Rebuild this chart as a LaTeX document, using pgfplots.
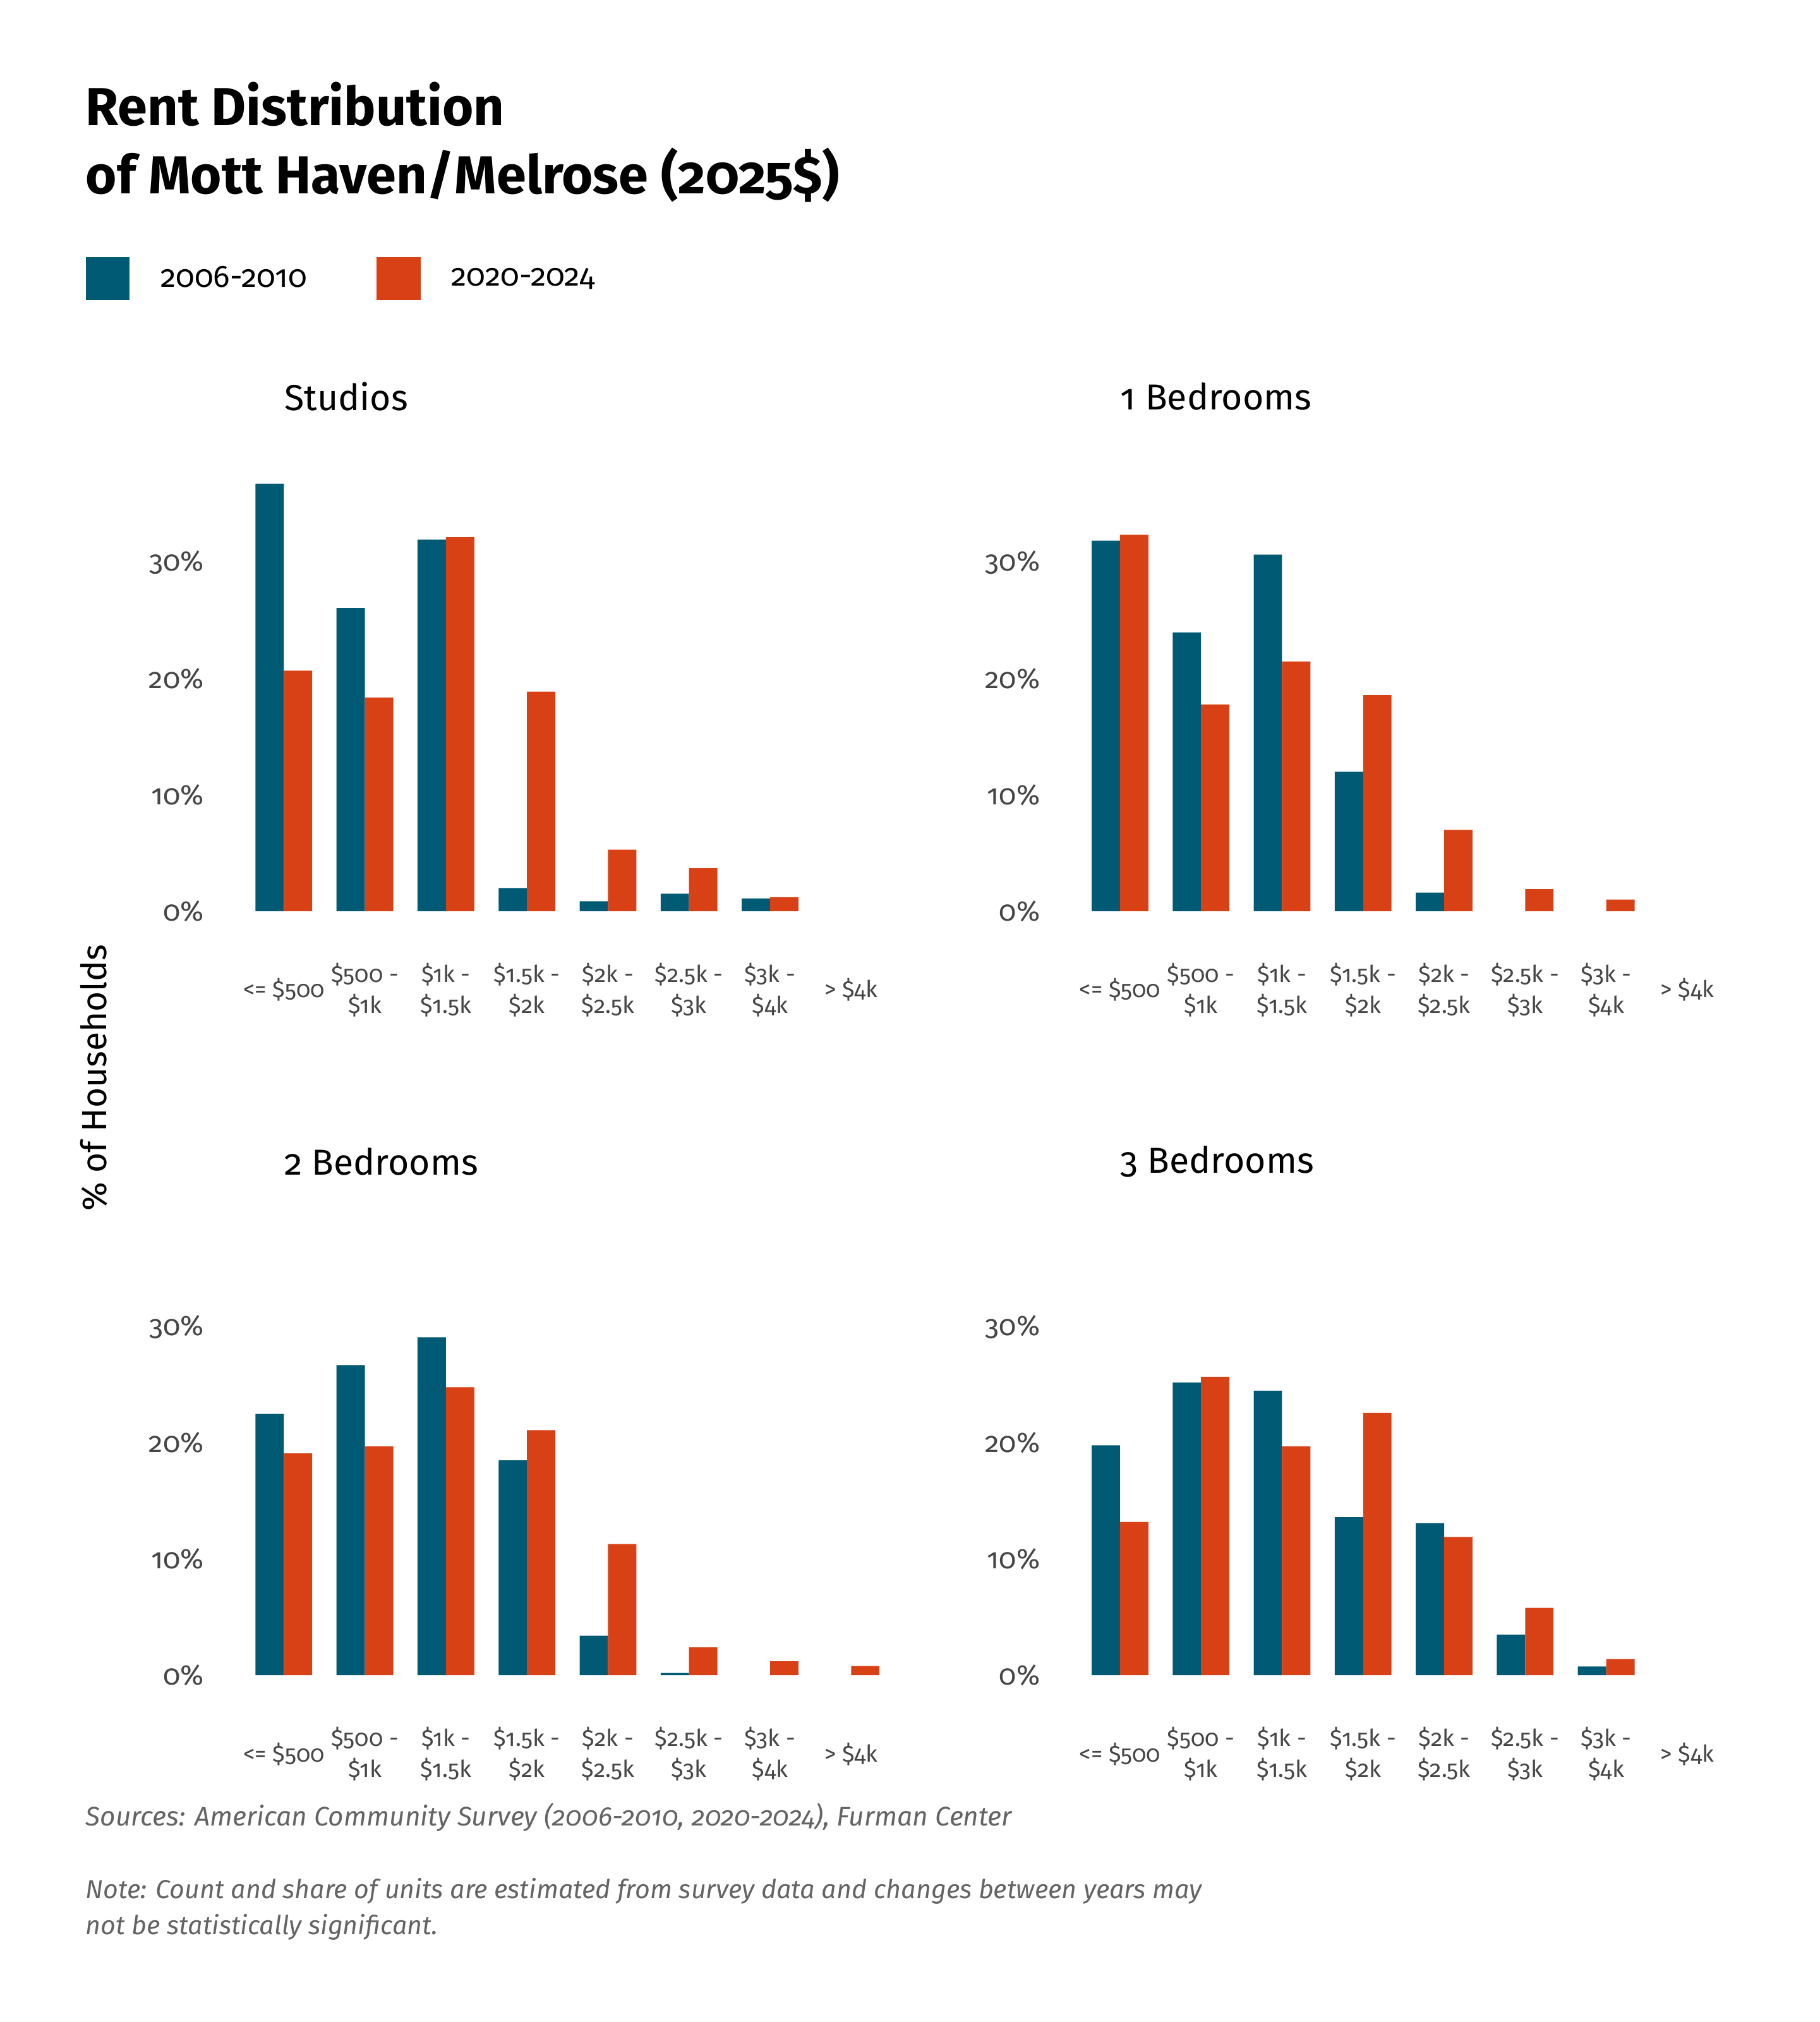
\documentclass[border=0pt]{standalone}
\usepackage{fontspec}
\setmainfont{Fira Sans}[Numbers=OldStyle]
\usepackage{pgfplots}
\pgfplotsset{compat=1.18}
\definecolor{cblue}{RGB}{0,90,116}
\definecolor{corange}{RGB}{216,65,21}
\definecolor{tickgray}{RGB}{70,70,70}
\definecolor{notegray}{RGB}{100,100,100}

\pgfplotsset{
  panel/.style={
    scale only axis, width=257.5pt, height=171pt,
    xmin=-0.6, xmax=7.6, ymin=0, ymax=38,
    axis line style={draw=none},
    major tick length=0pt, tick style={draw=none},
    ytick={0,10,20,30}, yticklabels={0\%,10\%,20\%,30\%},
    yticklabel style={anchor=east, xshift=-12pt, inner sep=0pt,
      font=\fontsize{11}{13}\selectfont, text=tickgray},
    xtick={0,1,2,3,4,5,6,7},
    xticklabels={{<= \$500},{\$500 -\\\$1k},{\$1k -\\\$1.5k},{\$1.5k -\\\$2k},{\$2k -\\\$2.5k},{\$2.5k -\\\$3k},{\$3k -\\\$4k},{> \$4k}},
    xticklabel style={anchor=center, yshift=-30.5pt, align=center, inner sep=0pt,
      font=\fontsize{9}{12}\selectfont, text=tickgray},
    ybar, bar width=0.35,
    enlargelimits=false, clip=false,
  },
  old/.style={fill=cblue, draw=none, bar shift=-0.175},
  new/.style={fill=corange, draw=none, bar shift=0.175},
}

\begin{document}
\begin{tikzpicture}
\useasboundingbox (0,0) rectangle (705pt,783.33pt);

% Title
\node[anchor=base west, inner sep=0pt, font=\fontsize{20.7}{26.5}\selectfont\bfseries] at (33pt,734.8pt) {Rent Distribution};
\node[anchor=base west, inner sep=0pt, font=\fontsize{20.7}{26.5}\selectfont\bfseries] at (33pt,708.3pt) {of Mott Haven/Melrose (2025\$)};

% Studios
\begin{axis}[panel, at={(91.15pt,430.33pt)}, anchor=south west,
  legend style={at={(axis description cs:-0.2258,1.4327)}, anchor=west,
    draw=none, fill=none, inner sep=0pt, legend columns=2,
    font=\fontsize{12}{14}\selectfont,
    /tikz/every odd column/.append style={column sep=10pt},
    /tikz/every even column/.append style={column sep=25pt}},
  legend image code/.code={\fill (0pt,-8.25pt) rectangle (17pt,8.25pt);},
  legend cell align=left]
\addplot[old] coordinates {(0,36.8) (1,26.1) (2,32.0) (3,2.0) (4,0.85) (5,1.5) (6,1.1)};
\addplot[new] coordinates {(0,20.7) (1,18.4) (2,32.2) (3,18.9) (4,5.3) (5,3.7) (6,1.2)};
\legend{2006-2010,2020-2024}
\end{axis}

% 1 Bedrooms
\begin{axis}[panel, at={(415.15pt,430.33pt)}, anchor=south west]
\addplot[old] coordinates {(0,31.9) (1,24.0) (2,30.7) (3,12.0) (4,1.6)};
\addplot[new] coordinates {(0,32.4) (1,17.8) (2,21.5) (3,18.6) (4,7.0) (5,1.9) (6,1.0)};
\end{axis}

% 2 Bedrooms
\begin{axis}[panel, at={(91.15pt,134.33pt)}, anchor=south west]
\addplot[old] coordinates {(0,22.5) (1,26.7) (2,29.1) (3,18.5) (4,3.4) (5,0.2)};
\addplot[new] coordinates {(0,19.1) (1,19.7) (2,24.8) (3,21.1) (4,11.3) (5,2.4) (6,1.2) (7,0.8)};
\end{axis}

% 3 Bedrooms
\begin{axis}[panel, at={(415.15pt,134.33pt)}, anchor=south west]
\addplot[old] coordinates {(0,19.8) (1,25.2) (2,24.5) (3,13.6) (4,13.1) (5,3.5) (6,0.75)};
\addplot[new] coordinates {(0,13.2) (1,25.7) (2,19.7) (3,22.6) (4,11.9) (5,5.8) (6,1.4)};
\end{axis}

% Panel titles
\node[anchor=west, inner sep=0pt, font=\fontsize{14}{17}\selectfont] at (110pt,629.8pt) {Studios};
\node[anchor=west, inner sep=0pt, font=\fontsize{14}{17}\selectfont] at (434pt,629.8pt) {1 Bedrooms};
\node[anchor=west, inner sep=0pt, font=\fontsize{14}{17}\selectfont] at (110pt,333.3pt) {2 Bedrooms};
\node[anchor=west, inner sep=0pt, font=\fontsize{14}{17}\selectfont] at (434pt,333.3pt) {3 Bedrooms};

% Y axis label
\node[rotate=90, inner sep=0pt, font=\fontsize{13.5}{16}\selectfont] at (36.5pt,365.8pt) {\% of Households};

% Notes
\node[anchor=west, inner sep=0pt, font=\fontsize{10.4}{14}\selectfont\itshape, text=notegray] at (33pt,79.3pt) {Sources: American Community Survey (2006-2010, 2020-2024), Furman Center};
\node[anchor=west, inner sep=0pt, font=\fontsize{10.1}{14}\selectfont\itshape, text=notegray] at (33pt,50.8pt) {Note: Count and share of units are estimated from survey data and changes between years may};
\node[anchor=west, inner sep=0pt, font=\fontsize{10.1}{14}\selectfont\itshape, text=notegray] at (33pt,36.8pt) {not be statistically significant.};
\end{tikzpicture}
\end{document}
